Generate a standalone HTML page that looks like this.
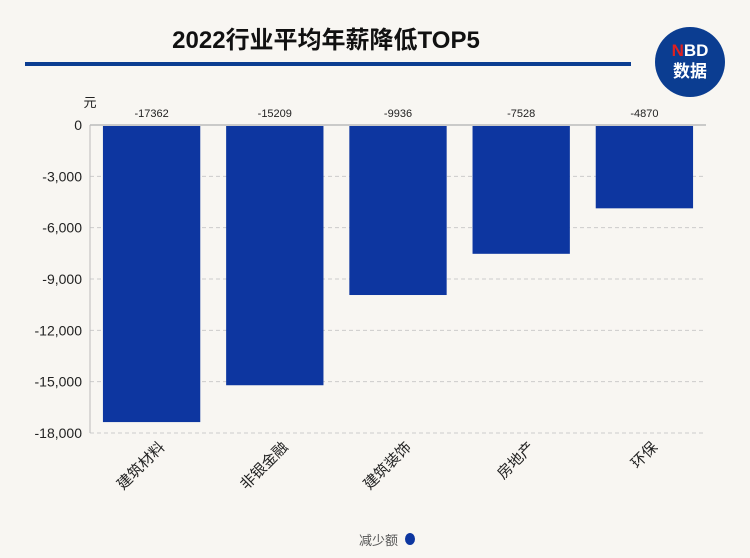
<!DOCTYPE html>
<html><head><meta charset="utf-8"><style>
body{margin:0;background:#f8f6f2;}
svg{display:block;font-family:"Liberation Sans","Noto Sans CJK SC",sans-serif;}
</style></head><body>
<svg id="chart" width="750" height="558">
<rect width="750" height="558" fill="#f8f6f2"/>
<text x="326" y="48" text-anchor="middle" font-size="24" font-weight="bold" fill="#111">2022行业平均年薪降低TOP5</text>
<rect x="25" y="62" width="606" height="4" fill="#0b3d91"/>
<g>
<ellipse cx="690" cy="62" rx="35" ry="35" fill="#0b3d91"/>
<text x="690" y="56" text-anchor="middle" font-size="17" font-weight="bold" fill="#fff"><tspan fill="#e02020">N</tspan>BD</text>
<text x="690" y="77" text-anchor="middle" font-size="17" font-weight="bold" fill="#fff">数据</text>
</g>
<text x="90" y="107" text-anchor="middle" font-size="13" fill="#222">元</text>
<g id="grid"></g><g id="bars"></g><g id="labels"></g>
<g>
<text x="398" y="545" text-anchor="end" font-size="13" fill="#555">减少额</text>
<ellipse cx="410" cy="539" rx="5" ry="6" fill="#0d36a0"/>
</g>
</svg>
<script>
const categories=["建筑材料","非银金融","建筑装饰","房地产","环保"];
const values=[-17362,-15209,-9936,-7528,-4870];
const ticks=[0,-3000,-6000,-9000,-12000,-15000,-18000];
const tickLabels=["0","-3,000","-6,000","-9,000","-12,000","-15,000","-18,000"];
const NS="http://www.w3.org/2000/svg";
const x0=90,x1=706,y0=125,y1=433,yMin=-18000;
const y=v=>y0+(v/yMin)*(y1-y0);
const band=(x1-x0)/categories.length;
const bx=i=>x0+band*i;
function mk(t,a,p){const e=document.createElementNS(NS,t);for(const k in a)e.setAttribute(k,a[k]);p.appendChild(e);return e;}
const g=document.getElementById('grid'),b=document.getElementById('bars'),l=document.getElementById('labels');
ticks.forEach((t,i)=>{
  if(i>0){const ln=mk('line',{x1:x0,x2:x1,y1:y(t),y2:y(t),stroke:'#ccc','stroke-dasharray':'4,3'},g);
  
  }
  const tx=mk('text',{x:x0-8,y:y(t)+5,'text-anchor':'end','font-size':14,fill:'#222'},g);tx.textContent=tickLabels[i];
  
  
});
const ya=mk('line',{x1:x0,x2:x0,y1:y0,y2:y1,stroke:'#bbb'},g);


const xa=mk('line',{x1:x0,x2:x1,y1:y0,y2:y0,stroke:'#bbb','stroke-width':1.5},g);


categories.forEach((c,i)=>{
  const w=band*0.79,x=bx(i)+(band-w)/2;
  const r=mk('rect',{x:x,y:y0+1,width:w,height:y(values[i])-y0-1,fill:'#0d36a0'},b);
  
  
  const v=mk('text',{x:bx(i)+band/2,y:117,'text-anchor':'middle','font-size':11,fill:'#222'},l);v.textContent=values[i];
  
  
  const cx=bx(i)+band/2+14,cy=448;
  const t=mk('text',{x:cx,y:cy,'text-anchor':'end','font-size':15,fill:'#222',transform:`rotate(-45 ${cx} ${cy})`},l);t.textContent=c;
  
  
});
</script>
</body></html>
